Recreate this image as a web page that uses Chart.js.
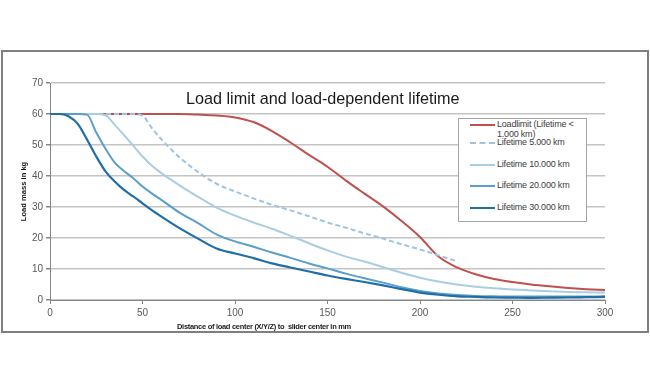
<!DOCTYPE html>
<html>
<head>
<meta charset="utf-8">
<script src="https://cdn.jsdelivr.net/npm/chart.js@4.4.0/dist/chart.umd.min.js"></script>
<style>
    body { margin: 0; background: #fff; }
    #wrap { position: relative; width: 650px; height: 384px; }
    #frame {
        position: absolute; left: 1px; top: 50px; width: 644px; height: 279px;
        border: 2px solid #7f7f7f;
    }
    canvas { position: absolute; left: 0; top: 0; }
    #legend {
        position: absolute; left: 458px; top: 118px; width: 127px; height: 102px;
        border: 1px solid #a6a6a6; background: #fff;
        font-family: "Liberation Sans", sans-serif; font-size: 9px; letter-spacing: -0.2px; color: #404040;
    }
    .row { position: absolute; left: 11px; height: 12px; line-height: 10px; }
    .row span.sample { position: absolute; left: 0; top: 5px; width: 25px; height: 0; }
    .row span.txt { position: absolute; left: 27px; top: 0; white-space: nowrap; }
    #xtitle {
        position: absolute; left: 177px; top: 322px; white-space: nowrap;
        font-family: "Liberation Sans", sans-serif; font-size: 7.5px; letter-spacing: -0.3px;
        font-weight: bold; color: #1a1a1a;
    }
</style>
</head>
<body>
<div id="wrap">
    <div id="frame"></div>
    <canvas id="loadChart" width="650" height="384"></canvas>
    <div id="legend"></div>
    <div id="xtitle">Distance of load center (X/Y/Z) to&nbsp; slider center in mm</div>
</div>
<script>
const distances = [0, 5, 10, 15, 20, 25, 30, 35, 40, 45, 50, 55, 60, 70, 80, 90, 100, 110, 120, 130, 140, 150,
    160, 170, 180, 190, 200, 210, 220, 230, 240, 250, 260, 270, 280, 290, 300];

const loadLimit = [60, 60, 60, 60, 60, 60, 60, 60, 60, 60, 60, 60, 60, 60, 59.8, 59.5, 58.9, 57.4, 54.5, 50.8, 46.8, 43,
    38.5, 34.3, 30.2, 25.5, 20.3, 14, 10.5, 8.3, 6.8, 5.8, 5, 4.4, 3.9, 3.5, 3.2];
const life5000 = [60, 60, 60, 60, 60, 60, 60, 60, 60, 60, 59.5, 55.5, 52, 46, 41.3, 37.5, 35, 32.8, 30.7, 28.9, 27, 25,
    23.3, 21.5, 19.8, 18, 16.3, 14.4, 12.5, null, null, null, null, null, null, null, null];
const life10000 = [60, 60, 60, 60, 60, 60, 59.6, 56.5, 53.2, 49.8, 46.3, 43.4, 41, 37, 33.3, 29.8, 27.2, 25, 23, 20.7, 18.3, 16,
    14, 12.4, 10.6, 8.8, 7.2, 6, 5, 4.3, 3.8, 3.4, 3.1, 2.8, 2.6, 2.5, 2.4];
const life20000 = [60, 60, 60, 60, 59.8, 54, 48.8, 44.3, 41.6, 39.3, 36.6, 34.4, 32.4, 28.2, 24.8, 21.2, 18.9, 17.2, 15.3, 13.6, 11.8, 10.2,
    8.5, 7, 5.6, 4.1, 2.9, 2.1, 1.6, 1.3, 1.2, 1.1, 1.1, 1.1, 1.1, 1.1, 1.2];
const life30000 = [60, 60, 59.3, 56.8, 51.8, 46.3, 41.5, 38.2, 35.5, 33.4, 31.2, 29, 27, 23.2, 19.8, 16.6, 15, 13.5, 11.8, 10.5, 9.2, 7.9,
    6.8, 5.8, 4.7, 3.5, 2.4, 1.7, 1.2, 1, 0.8, 0.75, 0.7, 0.75, 0.8, 0.9, 1];

const seriesNames = ['Loadlimit (Lifetime < 1.000 km)', 'Lifetime 5.000 km', 'Lifetime 10.000 km', 'Lifetime 20.000 km', 'Lifetime 30.000 km'];
const yTicks = [0, 10, 20, 30, 40, 50, 60, 70];
const xTicks = [0, 50, 100, 150, 200, 250, 300];

const colors = ['#c0504d', '#9fc3e0', '#a9cde3', '#5a9fcb', '#1f6ea8'];

function toPoints(values) {
    return distances.map((d, i) => ({ x: d, y: values[i] }));
}

const seriesValues = [loadLimit, life5000, life10000, life20000, life30000];
const datasets = seriesValues.map((vals, i) => ({
    label: seriesNames[i],
    data: toPoints(vals),
    borderColor: colors[i],
    borderWidth: i === 4 ? 2.2 : 2,
    borderDash: i === 1 ? [5, 3] : [],
    pointRadius: 0,
    fill: false,
    spanGaps: false,
    cubicInterpolationMode: 'monotone',
    order: 5 - i
}));

// title sits inside the plot, like in the original
const innerTitle = {
    id: 'innerTitle',
    afterDatasetsDraw(chart) {
        const ctx = chart.ctx;
        ctx.save();
        ctx.font = '16.2px "Liberation Sans", sans-serif';
        ctx.fillStyle = '#1a1a1a';
        ctx.textAlign = 'left';
        ctx.textBaseline = 'middle';
        ctx.fillText('Load limit and load-dependent lifetime', 186, 100);
        ctx.restore();
    }
};

const ctx = document.getElementById('loadChart').getContext('2d');
const loadChart = new Chart(ctx, {
    type: 'line',
    data: { datasets: datasets },
    options: {
        responsive: false,
        animation: false,
        layout: { padding: { left: 0, top: 83, right: 45, bottom: 64 } },
        plugins: {
            legend: { display: false },
            tooltip: { enabled: false }
        },
        scales: {
            x: {
                type: 'linear',
                min: 0,
                max: 300,
                afterFit: scale => { scale.height = 20; },
                afterBuildTicks: scale => { scale.ticks = xTicks.map(v => ({ value: v })); },
                grid: { drawOnChartArea: false, drawTicks: true, tickLength: 4, color: '#868686' },
                border: { color: '#868686', width: 1 },
                ticks: { color: '#595959', font: { size: 10, family: '"Liberation Sans", sans-serif' }, padding: 3 }
            },
            y: {
                min: 0,
                max: 70,
                afterFit: scale => { scale.width = 50; },
                afterBuildTicks: scale => { scale.ticks = yTicks.map(v => ({ value: v })); },
                grid: { color: '#c4c4c4', lineWidth: 1.5, tickLength: 4, tickColor: '#868686' },
                border: { color: '#868686', width: 1 },
                ticks: { color: '#595959', font: { size: 10, family: '"Liberation Sans", sans-serif' }, padding: 3 },
                title: {
                    display: true,
                    text: 'Load mass in kg',
                    color: '#1a1a1a',
                    font: { size: 7.6, weight: 'bold', family: '"Liberation Sans", sans-serif' },
                    padding: { top: 19, bottom: 4 }
                }
            }
        }
    },
    plugins: [innerTitle]
});

// legend box drawn as html, placed over the plot
const legendRows = [
    { top: 0, lines: ['Loadlimit (Lifetime <', '1.000 km)'] },
    { top: 18, lines: ['Lifetime 5.000 km'] },
    { top: 40, lines: ['Lifetime 10.000 km'] },
    { top: 61, lines: ['Lifetime 20.000 km'] },
    { top: 83, lines: ['Lifetime 30.000 km'] }
];
const legendEl = document.getElementById('legend');
legendRows.forEach((r, i) => {
    const row = document.createElement('div');
    row.className = 'row';
    row.style.top = r.top + 'px';
    const sample = document.createElement('span');
    sample.className = 'sample';
    sample.style.borderTop = (i === 4 ? '2.2px ' : '2px ') + (i === 1 ? 'dashed ' : 'solid ') + colors[i];
    const txt = document.createElement('span');
    txt.className = 'txt';
    txt.innerHTML = r.lines.map(s => s.replace('<', '&lt;')).join('<br>');
    row.appendChild(sample);
    row.appendChild(txt);
    legendEl.appendChild(row);
});
</script>
</body>
</html>
